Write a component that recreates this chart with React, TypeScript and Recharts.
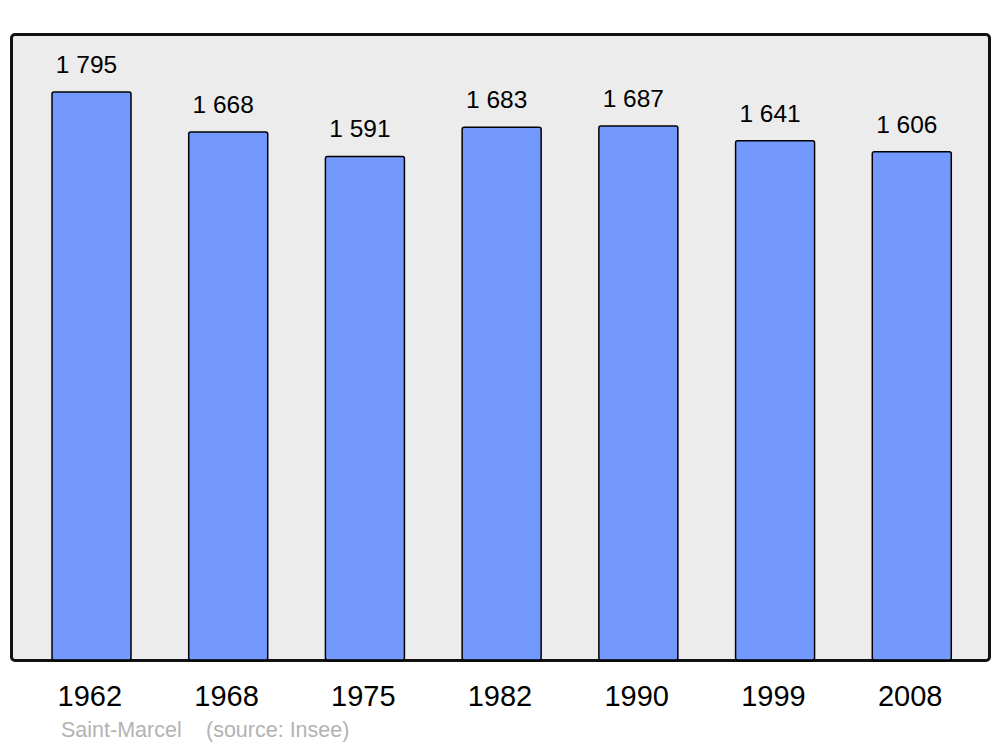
import React from "react";
import { BarChart, Bar, XAxis, YAxis, LabelList } from "recharts";

const years = ["1962", "1968", "1975", "1982", "1990", "1999", "2008"];
const population = [1795, 1668, 1591, 1683, 1687, 1641, 1606];
const placeName = "Saint-Marcel";
const sourceNote = "(source: Insee)";

const chartData = years.map((year, i) => ({ year, population: population[i] }));

const FONT = "Liberation Sans, Arial, sans-serif";

const formatValue = (v: number) => {
  const s = String(v);
  return s.length > 3 ? s.slice(0, s.length - 3) + " " + s.slice(-3) : s;
};

const YearTick = (props: any) => {
  const { x, y, payload } = props;
  return (
    <text x={x - 1.5} y={y + 38} textAnchor="middle" fontSize={29} fontFamily={FONT} fill="#000">
      {payload.value}
    </text>
  );
};

const ValueLabel = (props: any) => {
  const { x, y, width, value } = props;
  return (
    <text x={x + width / 2 - 5} y={y - 19} textAnchor="middle" fontSize={24.5} fontFamily={FONT} fill="#000">
      {formatValue(value)}
    </text>
  );
};

export default function App() {
  return (
    <div
      style={{
        position: "absolute",
        left: 0,
        top: 0,
        width: 1000,
        height: 747,
        background: "#fff",
      }}
    >
      <div
        style={{
          position: "absolute",
          left: 10,
          top: 33,
          width: 975,
          height: 623,
          background: "#ececec",
          border: "3px solid #111",
          borderRadius: 5,
        }}
      />
      <div style={{ position: "absolute", left: 0, top: 0 }}>
        <BarChart
          width={1000}
          height={747}
          data={chartData}
          margin={{ top: 34, right: 11, bottom: 30, left: 11 }}
          barSize={79}
        >
          <XAxis
            dataKey="year"
            axisLine={false}
            tickLine={false}
            height={57}
            padding={{ left: 12, right: 9 }}
            tick={<YearTick />}
            interval={0}
          />
          <YAxis hide domain={[0, 1978]} />
          <Bar
            dataKey="population"
            fill="#7399ff"
            stroke="#000"
            strokeWidth={1.5}
            radius={[2, 2, 2, 2]}
            isAnimationActive={false}
          >
            <LabelList dataKey="population" content={<ValueLabel />} />
          </Bar>
        </BarChart>
      </div>
      <svg
        width={1000}
        height={747}
        style={{ position: "absolute", left: 0, top: 0, pointerEvents: "none" }}
      >
        <text x={61} y={737} fontSize={21.5} fontFamily={FONT} fill="#b3b3b3">
          {placeName}
        </text>
        <text x={206} y={737} fontSize={21.5} fontFamily={FONT} fill="#b3b3b3">
          {sourceNote}
        </text>
      </svg>
    </div>
  );
}
